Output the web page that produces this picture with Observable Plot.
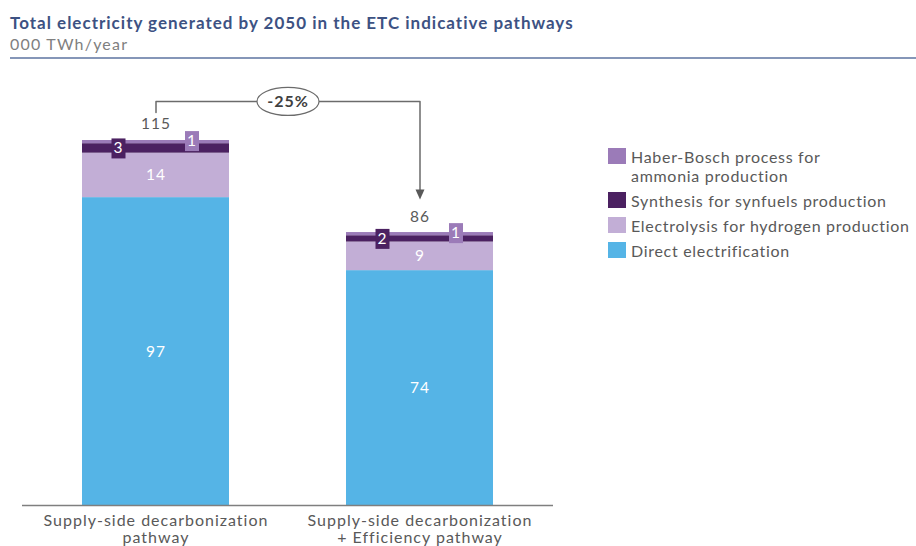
<!DOCTYPE html>
<html><head><meta charset="utf-8">
<script src="https://cdn.jsdelivr.net/npm/d3@7"></script>
<script src="https://cdn.jsdelivr.net/npm/@observablehq/plot@0.6"></script>
<style>
body{margin:0;background:#fff;font-family:Lato,"Open Sans",sans-serif;}
#wrap{position:relative;width:916px;height:546px;overflow:hidden;}
#head{position:relative;height:62px;}
#title{position:absolute;left:10px;top:12px;font-size:17px;letter-spacing:1px;font-weight:700;color:#3d5283;white-space:nowrap;}
#sub{position:absolute;left:10px;top:34px;font-size:16px;letter-spacing:1.2px;color:#808080;white-space:nowrap;}
#rule{position:absolute;left:10px;right:0;top:57px;height:2px;background:#8596b8;}
#legend{position:absolute;left:608px;top:147px;font-size:16px;letter-spacing:0.7px;color:#595959;}
.item{display:flex;align-items:flex-start;margin-bottom:6px;line-height:19px;}
.sw{width:18px;height:16px;margin-right:5px;margin-top:1px;flex:none;}
#chart text{letter-spacing:1px;}
</style></head>
<body><div id="wrap">
<div id="head"><div id="title"></div><div id="sub"></div><div id="rule"></div></div>
<div id="chart"></div>
<div id="legend"></div>
</div>
<script>
const titleText = "Total electricity generated by 2050 in the ETC indicative pathways";
const subtitleText = "000 TWh/year";
const pathways = ["Supply-side decarbonization\npathway", "Supply-side decarbonization\n+ Efficiency pathway"];
const series = ["Direct electrification", "Electrolysis for hydrogen production", "Synthesis for synfuels production", "Haber-Bosch process for ammonia production"];
const legendLabels = ["Haber-Bosch process for<br>ammonia production", "Synthesis for synfuels production", "Electrolysis for hydrogen production", "Direct electrification"];
const colors = ["#55b4e6", "#c2aed6", "#4b2161", "#9b7bb8"];
const direct = [97, 74];
const electrolysis = [14, 9];
const synthesis = [3, 2];
const haber = [1, 1];
const totals = [115, 86];
const changeLabel = "-25%";

document.getElementById("title").textContent = titleText;
document.getElementById("sub").textContent = subtitleText;

const values = [direct, electrolysis, synthesis, haber];
const rows = [];
pathways.forEach((p, i) => {
  let acc = 0;
  series.forEach((s, j) => {
    const v = values[j][i];
    rows.push({pathway: p, series: s, value: v, y1: acc, y2: acc + v, mid: acc + v / 2, j});
    acc += v;
  });
});
const inner = rows.filter(d => d.j < 2);
const synRows = rows.filter(d => d.j === 2);
const habRows = rows.filter(d => d.j === 3);
const totRows = pathways.map((p, i) => ({pathway: p, total: totals[i]}));

const boxSym = {draw(ctx) { ctx.moveTo(-7, -10); ctx.lineTo(7, -10); ctx.lineTo(7, 10); ctx.lineTo(-7, 10); ctx.closePath(); }};
const triSym = {draw(ctx) { ctx.moveTo(-4.5, -10); ctx.lineTo(4.5, -10); ctx.lineTo(0, 0); ctx.closePath(); }};
const k = 0.5523, rx = 31, ry = 14;
const ellSym = {draw(ctx) {
  ctx.moveTo(rx, 0);
  ctx.bezierCurveTo(rx, ry * k, rx * k, ry, 0, ry);
  ctx.bezierCurveTo(-rx * k, ry, -rx, ry * k, -rx, 0);
  ctx.bezierCurveTo(-rx, -ry * k, -rx * k, -ry, 0, -ry);
  ctx.bezierCurveTo(rx * k, -ry, rx, -ry * k, rx, 0);
  ctx.closePath();
}};

const ymax = d3.max(totals);
const bracketTop = ymax + 12.3;
const bracketStart = ymax + 8.8;
const arrowTip = totals[1] + 10.4;
const bracket = [
  {x: pathways[0], y: bracketStart},
  {x: pathways[0], y: bracketTop},
  {x: pathways[1], y: bracketTop},
  {x: pathways[1], y: arrowTip + 2}
];

const chart = Plot.plot({
  width: 916, height: 484,
  marginLeft: 22, marginRight: 363, marginTop: 78, marginBottom: 41,
  style: {fontFamily: "Lato, 'Open Sans', sans-serif", background: "transparent"},
  x: {type: "band", domain: pathways, paddingInner: 0.445, paddingOuter: 0.2245, axis: null},
  y: {domain: [0, ymax], axis: null},
  color: {domain: series, range: colors},
  marks: [
    Plot.rectY(rows, {x: "pathway", y1: "y1", y2: "y2", fill: "series"}),
    Plot.ruleY([0], {stroke: "#7f7f7f", strokeWidth: 1.5}),
    Plot.text(inner, {x: "pathway", y: "mid", text: d => String(d.value), fill: "white", fontSize: 15.5}),
    Plot.dot(synRows, {x: "pathway", y: "mid", symbol: boxSym, fill: colors[2], r: 5, dx: -37.5}),
    Plot.text(synRows, {x: "pathway", y: "mid", text: d => String(d.value), fill: "white", fontSize: 15.5, dx: -37.5}),
    Plot.dot(habRows, {x: "pathway", y: "mid", symbol: boxSym, fill: colors[3], r: 5, dx: 36, dy: -1}),
    Plot.text(habRows, {x: "pathway", y: "mid", text: d => String(d.value), fill: "white", fontSize: 15.5, dx: 36, dy: -1}),
    Plot.text(totRows, {x: "pathway", y: "total", text: d => String(d.total), fill: "#595959", fontSize: 15.5, dy: -16}),
    Plot.line(bracket, {x: "x", y: "y", stroke: "#6b6b6b", strokeWidth: 1.5, curve: "linear"}),
    Plot.dot([{x: pathways[1], y: arrowTip}], {x: "x", y: "y", symbol: triSym, fill: "#595959", r: 5}),
    Plot.dot([{x: pathways[0], y: bracketTop}], {x: "x", y: "y", symbol: ellSym, fill: "white", stroke: "#6b6b6b", strokeWidth: 1.2, r: 5, dx: 132}),
    Plot.text([{x: pathways[0], y: bracketTop}], {x: "x", y: "y", text: () => changeLabel, fill: "#404040", fontWeight: 700, fontSize: 16, dx: 132}),
    Plot.text(pathways, {x: d => d, y: 0, text: d => d, fill: "#595959", fontSize: 16, lineAnchor: "top", lineHeight: 1.08, dy: 8})
  ]
});
document.getElementById("chart").appendChild(chart);

const lg = document.getElementById("legend");
legendLabels.forEach((lab, i) => {
  const it = document.createElement("div");
  it.className = "item";
  it.innerHTML = `<div class="sw" style="background:${colors[3 - i]}"></div><div>${lab}</div>`;
  lg.appendChild(it);
});
</script>
</body></html>
